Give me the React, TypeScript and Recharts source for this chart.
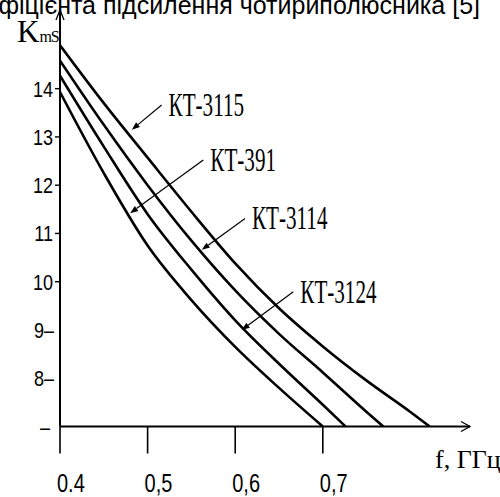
import { LineChart, Line, XAxis, YAxis, ReferenceLine, ReferenceDot } from "recharts";

// K_mS vs f (GHz)
const kt3115 = [
  { f: 0.4, k: 14.9 },
  { f: 0.45, k: 13.7 },
  { f: 0.5, k: 12.57 },
  { f: 0.55, k: 11.45 },
  { f: 0.6, k: 10.38 },
  { f: 0.65, k: 9.45 },
  { f: 0.7, k: 8.66 },
  { f: 0.75, k: 7.95 },
  { f: 0.8, k: 7.3 },
  { f: 0.822, k: 7.0 },
];
const kt3114 = [
  { f: 0.4, k: 14.58 },
  { f: 0.45, k: 13.25 },
  { f: 0.5, k: 12.0 },
  { f: 0.55, k: 10.85 },
  { f: 0.6, k: 9.82 },
  { f: 0.65, k: 8.92 },
  { f: 0.7, k: 8.12 },
  { f: 0.75, k: 7.3 },
  { f: 0.769, k: 7.0 },
];
const kt3124 = [
  { f: 0.4, k: 14.27 },
  { f: 0.45, k: 12.8 },
  { f: 0.5, k: 11.4 },
  { f: 0.55, k: 10.25 },
  { f: 0.6, k: 9.2 },
  { f: 0.65, k: 8.3 },
  { f: 0.7, k: 7.45 },
  { f: 0.726, k: 7.0 },
];
const kt391 = [
  { f: 0.4, k: 13.93 },
  { f: 0.45, k: 12.25 },
  { f: 0.5, k: 10.75 },
  { f: 0.55, k: 9.62 },
  { f: 0.6, k: 8.65 },
  { f: 0.65, k: 7.8 },
  { f: 0.7, k: 7.0 },
];

const xTicks = [0.4, 0.5, 0.6, 0.7];
const xTickLabels = ["0.4", "0,5", "0,6", "0,7"];
const yTicks = [7, 8, 9, 10, 11, 12, 13, 14];
const yTickLabels = ["–", "8–", "9–", "10", "11", "12", "13", "14"];

const X_MAX = 0.868;
const Y_MAX = 15.63;

// callouts: label, arrow tail (at the text) and arrow tip (on the curve)
const callouts = [
  { name: "КТ-3115", from: [0.516, 13.66], to: [0.482, 13.15] },
  { name: "КТ-391", from: [0.5636, 12.52], to: [0.48, 11.42] },
  { name: "КТ-3114", from: [0.6112, 11.31], to: [0.5618, 10.66] },
  { name: "КТ-3124", from: [0.6663, 9.79], to: [0.6074, 9.0] },
];

const SANS = "'Liberation Sans', Arial, sans-serif";
const SERIF = "'Liberation Serif', 'Times New Roman', serif";

// no narrow face installed: squeeze the sans horizontally
function NarrowText({ x, y, anchor, size, sx, children }: any) {
  return (
    <text
      transform={`translate(${x} ${y}) scale(${sx} 1)`}
      textAnchor={anchor}
      fontSize={size}
      fontFamily={SANS}
      fill="#000"
    >
      {children}
    </text>
  );
}

function XTick({ x, y, payload }: any) {
  const i = xTicks.indexOf(payload.value);
  return (
    <g>
      <line x1={x} y1={y} x2={x} y2={y + 27} stroke="#000" strokeWidth={1.6} />
      <NarrowText x={x - 3} y={y + 65} anchor="start" size={25} sx={0.8}>
        {xTickLabels[i]}
      </NarrowText>
    </g>
  );
}

function YTick({ x, y, payload }: any) {
  const i = yTicks.indexOf(payload.value);
  const v = payload.value;
  return (
    <g>
      {v >= 10 && <line x1={x - 5} y1={y} x2={x} y2={y} stroke="#000" strokeWidth={1.4} />}
      <NarrowText x={v === 7 ? x - 10 : v >= 10 ? x - 7 : x - 6} y={y + 8} anchor="end" size={22} sx={0.82}>
        {yTickLabels[i]}
      </NarrowText>
    </g>
  );
}

function Callout({ x1, y1, x2, y2, name }: any) {
  const ang = Math.atan2(y2 - y1, x2 - x1);
  const L = 8;
  const W = 3;
  const bx = x2 - L * Math.cos(ang);
  const by = y2 - L * Math.sin(ang);
  const px = -Math.sin(ang) * W;
  const py = Math.cos(ang) * W;
  return (
    <g>
      <line x1={x1} y1={y1} x2={bx} y2={by} stroke="#000" strokeWidth={1.2} />
      <polygon points={`${x2},${y2} ${bx + px},${by + py} ${bx - px},${by - py}`} fill="#000" />
      <text
        transform={`translate(${x1 + 7} ${y1 + 11}) scale(0.96 1.5)`}
        fontSize={22}
        fontFamily={SERIF}
        fill="#000"
      >
        {name}
      </text>
    </g>
  );
}

function ArrowRight({ cx, cy }: any) {
  return (
    <path d={`M${cx - 9},${cy - 5} L${cx},${cy} L${cx - 9},${cy + 5}`} fill="none" stroke="#000" strokeWidth={1.3} />
  );
}

function ArrowUp({ cx, cy }: any) {
  return (
    <path d={`M${cx - 4},${cy + 10} L${cx},${cy} L${cx + 4},${cy + 10}`} fill="none" stroke="#000" strokeWidth={1.3} />
  );
}

const series = [kt3115, kt3114, kt3124, kt391];

export default function App() {
  return (
    <div style={{ position: "relative", width: 500, height: 497, overflow: "hidden", background: "#fff" }}>
      <style>{`body{margin:0}`}</style>
      <LineChart width={500} height={497} margin={{ top: 10, right: 30, bottom: 0, left: 0 }}>
        <XAxis
          type="number"
          dataKey="f"
          domain={[0.4, X_MAX]}
          ticks={xTicks}
          tick={<XTick />}
          tickLine={false}
          tickSize={0}
          tickMargin={0}
          height={70.5}
          axisLine={{ stroke: "#000", strokeWidth: 2 }}
          allowDataOverflow
        />
        <YAxis
          type="number"
          dataKey="k"
          domain={[7, Y_MAX]}
          ticks={yTicks}
          tick={<YTick />}
          tickLine={false}
          tickSize={0}
          tickMargin={0}
          width={60}
          axisLine={{ stroke: "#000", strokeWidth: 2 }}
          allowDataOverflow
        />
        {series.map((d, i) => (
          <Line
            key={i}
            data={d}
            dataKey="k"
            type="monotone"
            stroke="#000"
            strokeWidth={2.6}
            dot={false}
            isAnimationActive={false}
          />
        ))}
        {callouts.map((c) => (
          <ReferenceLine
            key={c.name}
            segment={[
              { x: c.from[0], y: c.from[1] },
              { x: c.to[0], y: c.to[1] },
            ]}
            ifOverflow="visible"
            shape={(p: any) => <Callout {...p} name={c.name} />}
          />
        ))}
        <ReferenceDot x={X_MAX} y={7} ifOverflow="visible" shape={<ArrowRight />} />
        <ReferenceDot x={0.4} y={Y_MAX} ifOverflow="visible" shape={<ArrowUp />} />
      </LineChart>
      <svg width={500} height={497} style={{ position: "absolute", left: 0, top: 0, pointerEvents: "none" }}>
        <text x={480} y={14} textAnchor="end" fontSize={25} fontFamily={SANS} fill="#000">
          фіцієнта підсилення чотириполюсника [5]
        </text>
        <text x={17} y={42} fontSize={31} fontFamily={SERIF} fill="#000">
          K<tspan fontSize={16} letterSpacing={-1}>mS</tspan>
        </text>
        <text x={435} y={468} fontSize={26} fontFamily={SERIF} fill="#000">
          f, ГГц
        </text>
      </svg>
    </div>
  );
}
